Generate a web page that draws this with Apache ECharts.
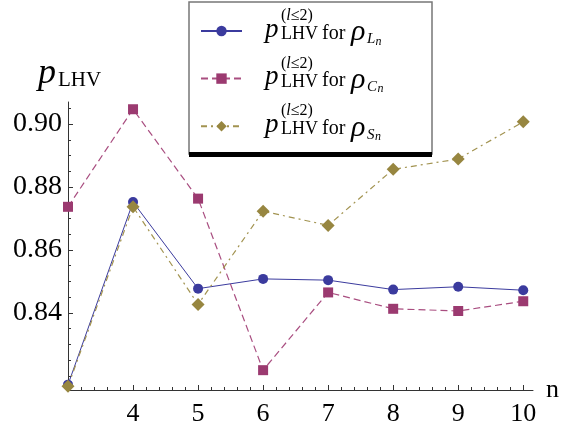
<!DOCTYPE html>
<html>
<head>
<meta charset="utf-8">
<script src="https://cdn.jsdelivr.net/npm/echarts@6/dist/echarts.min.js"></script>
<style>
html, body { margin: 0; padding: 0; background: #fff; }
#chart { width: 563px; height: 429px; }
</style>
</head>
<body>
<div id="chart"></div>
<script>
// n on the x axis, p_LHV on the y axis
var nValues = [3, 4, 5, 6, 7, 8, 9, 10];
var pLn = [0.8172, 0.8752, 0.8477, 0.8508, 0.8504, 0.8474, 0.8483, 0.8472];
var pCn = [0.8737, 0.9047, 0.8763, 0.8218, 0.8465, 0.8413, 0.8406, 0.8437];
var pSn = [0.8167, 0.8737, 0.8427, 0.8723, 0.8678, 0.8856, 0.8889, 0.9007];
var seriesNames = ['rho_Ln', 'rho_Cn', 'rho_Sn'];
var subLetters = ['L', 'C', 'S'];
var xTickValues = [4, 5, 6, 7, 8, 9, 10];
var yTickValues = [0.84, 0.86, 0.88, 0.90];

var serif = "'Liberation Serif', 'DejaVu Serif', serif";
var axisColor = '#333';

// minor ticks
var xMinor = [];
for (var i = 15; i <= 50; i++) xMinor.push(i / 5);
var yMinor = [];
for (var j = 164; j <= 181; j++) yMinor.push(Math.round(j * 5) / 1000);

function pairs(ys) {
  return nValues.map(function (x, k) { return [x, ys[k]]; });
}

function txt(x, y, s, size, italic) {
  return {
    type: 'text', x: x, y: y, z: 10,
    style: {text: s, fontSize: size, fontStyle: italic ? 'italic' : 'normal', fontFamily: serif, fill: '#000', verticalAlign: 'middle'}
  };
}

var myChart = echarts.init(document.getElementById('chart'));

// legend text (super/subscripts placed by hand)
var rowY = [31, 78.6, 126.2];
var subWidth = [8.5, 10.5, 8];
var legendTexts = [];
rowY.forEach(function (r, k) {
  legendTexts.push(
    txt(265, r - 1.5, 'p', 27, true),
    {type: 'text', x: 281, y: r - 15, z: 10, style: {
      text: '{a|(}{i|l}{a|≤2)}', fill: '#000', verticalAlign: 'middle',
      rich: {a: {fontSize: 16, fontFamily: serif}, i: {fontSize: 16, fontStyle: 'italic', fontFamily: serif}}
    }},
    txt(281, r + 3.3, 'LHV', 18, false),
    txt(322, r + 2.6, 'for', 20, false),
    txt(351, r + 1.5, 'ρ', 30, true),
    txt(367, r + 8.4, subLetters[k], 15, true),
    txt(367 + subWidth[k], r + 10.4, 'n', 12, true)
  );
});

var legends = seriesNames.map(function (name, k) {
  return {
    data: [name],
    left: 200,
    top: rowY[k] - 6.5,
    itemWidth: 41,
    itemHeight: 13,
    padding: 0,
    formatter: function () { return ''; },
    textStyle: {fontSize: 12},
    selectedMode: false
  };
});

myChart.setOption({
  animation: false,
  backgroundColor: '#fff',
  grid: {left: 68, right: 30, top: 102, bottom: 39},
  legend: legends,
  xAxis: [
    {
      type: 'value', min: 3, max: 10.15, position: 'bottom',
      axisLine: {show: true, onZero: false, lineStyle: {color: axisColor, width: 1}},
      axisTick: {show: true, inside: true, length: 5, customValues: xTickValues, lineStyle: {color: axisColor}},
      axisLabel: {show: true, customValues: xTickValues, margin: 11, color: '#000', fontSize: 26, fontFamily: serif},
      splitLine: {show: false},
      name: 'n', nameLocation: 'end', nameGap: 13,
      nameTextStyle: {fontSize: 26, fontFamily: serif, color: '#000', padding: [8, 0, 0, 0]}
    },
    {
      type: 'value', min: 3, max: 10.15, position: 'bottom',
      axisLine: {show: false},
      axisTick: {show: true, inside: true, length: 3, customValues: xMinor, lineStyle: {color: axisColor}},
      axisLabel: {show: false},
      splitLine: {show: false}
    }
  ],
  yAxis: [
    {
      type: 'value', min: 0.8155, max: 0.907, position: 'left',
      axisLine: {show: true, onZero: false, lineStyle: {color: axisColor, width: 1}},
      axisTick: {show: true, inside: true, length: 5, customValues: yTickValues, lineStyle: {color: axisColor}},
      axisLabel: {
        show: true, customValues: yTickValues, margin: 6, color: '#000', fontSize: 28, fontFamily: serif,
        padding: [5, 0, 0, 0],
        formatter: function (v) { return v.toFixed(2); }
      },
      splitLine: {show: false}
    },
    {
      type: 'value', min: 0.8155, max: 0.907, position: 'left',
      axisLine: {show: false},
      axisTick: {show: true, inside: true, length: 3, customValues: yMinor, lineStyle: {color: axisColor}},
      axisLabel: {show: false},
      splitLine: {show: false}
    }
  ],
  graphic: [
    {type: 'rect', shape: {x: 189, y: 2, width: 243, height: 152}, z: 1, style: {fill: '#fff', stroke: '#777', lineWidth: 1.5}},
    {type: 'rect', shape: {x: 189, y: 152, width: 243, height: 5}, z: 1, style: {fill: '#000'}},
    txt(38, 74, 'p', 36, true),
    txt(58, 80.9, 'LHV', 21, false)
  ].concat(legendTexts),
  series: [
    {
      name: seriesNames[0], type: 'line', data: pairs(pLn), clip: false,
      symbol: 'circle', symbolSize: 10,
      itemStyle: {color: '#3b3b9e'},
      lineStyle: {color: '#3b3b9e', width: 1, type: 'solid'}
    },
    {
      name: seriesNames[1], type: 'line', data: pairs(pCn), clip: false,
      symbol: 'rect', symbolSize: 10,
      itemStyle: {color: '#9b3a70'},
      lineStyle: {color: '#a94e80', width: 1.2, type: [7, 4]}
    },
    {
      name: seriesNames[2], type: 'line', data: pairs(pSn), clip: false,
      symbol: 'diamond', symbolSize: 13,
      itemStyle: {color: '#978640'},
      lineStyle: {color: '#a29350', width: 1.2, type: [6, 4, 2, 4]}
    }
  ]
});
</script>
</body>
</html>
